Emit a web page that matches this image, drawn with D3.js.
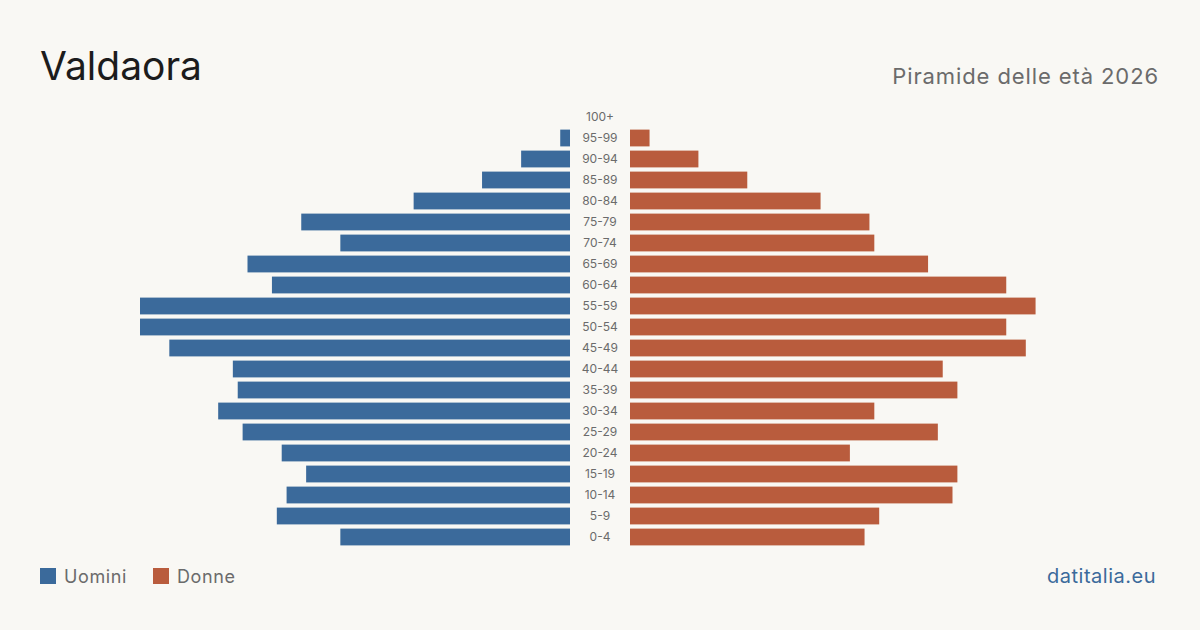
<!DOCTYPE html>
<html>
<head>
<meta charset="utf-8">
<script src="https://cdn.jsdelivr.net/npm/d3@7"></script>
<style>
  body { margin: 0; background: #f9f8f4; }
  svg { display: block; font-family: Inter, "Noto Sans", sans-serif; }
</style>
</head>
<body>
<div class="chart"></div>
<script>
var ages = ["100+", "95-99", "90-94", "85-89", "80-84", "75-79", "70-74", "65-69", "60-64", "55-59",
            "50-54", "45-49", "40-44", "35-39", "30-34", "25-29", "20-24", "15-19", "10-14", "5-9", "0-4"];
var men = [0, 2, 10, 18, 32, 55, 47, 66, 61, 88, 88, 82, 69, 68, 72, 67, 59, 54, 58, 60, 47];
var women = [0, 4, 14, 24, 39, 49, 50, 61, 77, 83, 77, 81, 64, 67, 50, 63, 45, 67, 66, 51, 48];

var width = 1200;
var height = 630;
var blue = "#3b6a9b";
var red = "#b95c3d";

var svg = d3.select(".chart")
            .append("svg")
            .attr("width", width)
            .attr("height", height);

svg.append("rect").attr("width", width).attr("height", height).attr("fill", "#f9f8f4");

var maxVal = d3.max(men.concat(women));

var y = d3.scaleBand()
          .domain(ages)
          .range([106.5, 547.5])
          .paddingInner(0.2)
          .paddingOuter(0.1);

var xLeft = d3.scaleLinear().domain([0, maxVal]).range([570, 140]);
var xRight = d3.scaleLinear().domain([0, maxVal]).range([630, 1060]);

svg.append("g").selectAll("rect")
    .data(ages)
    .enter()
    .append("rect")
    .attr("x", function(d, i) { return xLeft(men[i]); })
    .attr("y", function(d) { return y(d); })
    .attr("width", function(d, i) { return xLeft(0) - xLeft(men[i]); })
    .attr("height", y.bandwidth())
    .attr("fill", blue);

svg.append("g").selectAll("rect")
    .data(ages)
    .enter()
    .append("rect")
    .attr("x", xRight(0))
    .attr("y", function(d) { return y(d); })
    .attr("width", function(d, i) { return xRight(women[i]) - xRight(0); })
    .attr("height", y.bandwidth())
    .attr("fill", red);

svg.append("g").selectAll("text")
    .data(ages)
    .enter()
    .append("text")
    .text(function(d) { return d; })
    .attr("x", 600)
    .attr("y", function(d) { return y(d) + y.bandwidth() / 2; })
    .attr("dy", "0.35em")
    .attr("text-anchor", "middle")
    .attr("font-size", 12)
    .attr("fill", "#6b6b6b");

// titles
svg.append("text")
    .text("Valdaora")
    .attr("x", 40).attr("y", 80)
    .attr("font-size", 39)
    .attr("fill", "#1c1c1c");

svg.append("text")
    .text("Piramide delle età 2026")
    .attr("x", 1159).attr("y", 84)
    .attr("text-anchor", "end")
    .attr("font-size", 22)
    .attr("letter-spacing", 0.9)
    .attr("fill", "#6b6b6b");

// legend
var legend = [["Uomini", blue, 40], ["Donne", red, 153]];
var lg = svg.append("g").selectAll("g")
    .data(legend)
    .enter()
    .append("g");
lg.append("rect")
    .attr("x", function(d) { return d[2]; })
    .attr("y", 568)
    .attr("width", 16).attr("height", 16)
    .attr("fill", function(d) { return d[1]; });
lg.append("text")
    .text(function(d) { return d[0]; })
    .attr("x", function(d) { return d[2] + 24; })
    .attr("y", 583)
    .attr("font-size", 18)
    .attr("letter-spacing", 0.6)
    .attr("fill", "#6b6b6b");

svg.append("text")
    .text("datitalia.eu")
    .attr("x", 1156).attr("y", 583)
    .attr("text-anchor", "end")
    .attr("font-size", 20)
    .attr("letter-spacing", 0.5)
    .attr("fill", blue);
</script>
</body>
</html>
